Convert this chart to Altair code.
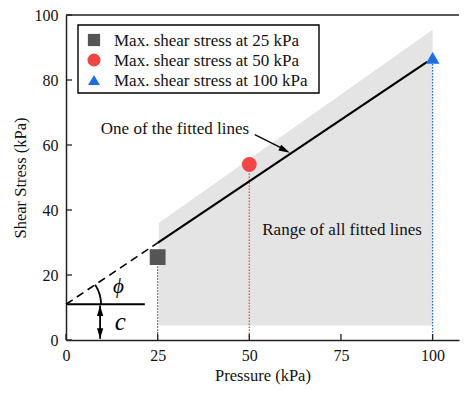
import altair as alt
import pandas as pd
import numpy as np

FONT = "Liberation Serif"

# ---- data ----
pressures = [25, 50, 100]
max_shear = [25.5, 54.0, 86.8]
series = ["Max. shear stress at 25 kPa", "Max. shear stress at 50 kPa", "Max. shear stress at 100 kPa"]
colors = ["#555555", "#f24646", "#1c6fe0"]
shapes = ["square", "circle", "triangle-up"]
sizes = [250, 190, 230]
legend_sizes = [150, 170, 140]

range_x = [25.3, 100]
range_top = [36.0, 95.5]
range_bottom = [4.5, 4.5]

cohesion = 11.0
fit_solid_x = [25, 98.5]
fit_solid_y = [29.9, 85.6]
fit_dash_x = [0, 25]
fit_dash_y = [11.0, 29.9]

x_ticks = [0, 25, 50, 75, 100]
y_ticks = [0, 20, 40, 60, 80, 100]

W, H = 393, 325
XMAX = 107.2
xs = alt.Scale(domain=[0, XMAX], nice=False, zero=False)
ys = alt.Scale(domain=[0, 100], nice=False)

pts = pd.DataFrame({"p": pressures, "s": max_shear, "series": series})

AX = dict(labelFont=FONT, titleFont=FONT, labelFontSize=16, titleFontSize=16.5, ticks=False, grid=False,
          titleFontWeight="normal", labelColor="#111", titleColor="#111", domainColor="#222", domainWidth=1.5)
X = lambda f: alt.X(f, scale=xs, axis=alt.Axis(values=x_ticks, title="Pressure (kPa)", labelPadding=7,
                                               titlePadding=4, labelFlush=False, **AX))
Y = lambda f: alt.Y(f, scale=ys, axis=alt.Axis(values=y_ticks, title="Shear Stress (kPa)", labelPadding=8,
                                               titlePadding=6, **AX))

shade = alt.Chart(pd.DataFrame({"x": range_x, "t": range_top, "b": range_bottom})).mark_area(
    color="#e4e4e4", opacity=1).encode(x=X("x:Q"), y=Y("t:Q"), y2="b:Q")

drops = alt.Chart(pts).mark_rule(strokeDash=[1.5, 1.5], strokeWidth=1.3).encode(
    x=X("p:Q"), y=Y("s:Q"), y2=alt.datum(0),
    stroke=alt.Stroke("series:N", scale=alt.Scale(domain=series, range=colors), legend=None))

solid = alt.Chart(pd.DataFrame({"x": fit_solid_x, "y": fit_solid_y})).mark_line(
    color="black", strokeWidth=2.2).encode(x=X("x:Q"), y=Y("y:Q"))
dashed = alt.Chart(pd.DataFrame({"x": fit_dash_x, "y": fit_dash_y})).mark_line(
    color="black", strokeWidth=1.6, strokeDash=[8, 5]).encode(x=X("x:Q"), y=Y("y:Q"))
hline = alt.Chart(pd.DataFrame({"x": [0, 21.5], "y": [cohesion, cohesion]})).mark_line(
    color="black", strokeWidth=2.2).encode(x=X("x:Q"), y=Y("y:Q"))

# angle arc (decorative)
px_x = W / XMAX
px_y = H / 100
r = 35
t = np.linspace(0, np.arctan((fit_dash_y[1] - fit_dash_y[0]) * px_y / (25 * px_x)), 20)
arc = alt.Chart(pd.DataFrame({"x": r * np.cos(t) / px_x, "y": cohesion + r * np.sin(t) / px_y, "o": range(20)})).mark_line(
    color="black", strokeWidth=1.8).encode(x=X("x:Q"), y=Y("y:Q"), order="o:Q")

# double arrow for c
c_x = 9.3
carrow = alt.Chart(pd.DataFrame({"x": [c_x], "y0": [0.4], "y1": [10.6]})).mark_rule(
    color="black", strokeWidth=1.8).encode(x=X("x:Q"), y=Y("y0:Q"), y2="y1:Q")
head_up = alt.Chart(pd.DataFrame({"x": [c_x], "y": [9.0]})).mark_point(
    shape="M0,-1 L-0.6,1 L0.6,1 Z", filled=True, color="black", size=110, opacity=1).encode(x=X("x:Q"), y=Y("y:Q"))
head_dn = alt.Chart(pd.DataFrame({"x": [c_x], "y": [2.0]})).mark_point(
    shape="M0,1 L-0.6,-1 L0.6,-1 Z", filled=True, color="black", size=110, opacity=1).encode(x=X("x:Q"), y=Y("y:Q"))

# annotation arrow
arr = alt.Chart(pd.DataFrame({"x": [51.5], "y": [63.2], "x2": [59.8], "y2": [58.5]})).mark_rule(
    color="black", strokeWidth=1.2).encode(x=X("x:Q"), y=Y("y:Q"), x2="x2:Q", y2="y2:Q")
arr_head = alt.Chart(pd.DataFrame({"x": [59.7], "y": [58.4]})).mark_point(
    shape="M1,0 L-1,-0.55 L-1,0.55 Z", filled=True, color="black", size=130, angle=27, opacity=1).encode(
    x=X("x:Q"), y=Y("y:Q"))

texts = pd.DataFrame({
    "x": [9.5, 75.3],
    "y": [65.0, 34.0],
    "label": ["One of the fitted lines", "Range of all fitted lines"],
})
txt1 = alt.Chart(texts.iloc[[0]]).mark_text(font=FONT, fontSize=17, align="left", color="#111").encode(
    x=X("x:Q"), y=Y("y:Q"), text="label:N")
txt2 = alt.Chart(texts.iloc[[1]]).mark_text(font=FONT, fontSize=17, align="center", color="#111").encode(
    x=X("x:Q"), y=Y("y:Q"), text="label:N")
phi = alt.Chart(pd.DataFrame({"x": [14.3], "y": [16.3], "t": ["ϕ"]})).mark_text(
    font=FONT, fontSize=21, fontStyle="italic", color="black").encode(x=X("x:Q"), y=Y("y:Q"), text="t:N")
cc = alt.Chart(pd.DataFrame({"x": [14.8], "y": [5.6], "t": ["c"]})).mark_text(
    font=FONT, fontSize=25, fontStyle="italic", color="black").encode(x=X("x:Q"), y=Y("y:Q"), text="t:N")

points = alt.Chart(pts).mark_point(filled=True, opacity=1).encode(
    x=X("p:Q"), y=Y("s:Q"),
    color=alt.Color("series:N", scale=alt.Scale(domain=series, range=colors), legend=None),
    shape=alt.Shape("series:N", scale=alt.Scale(domain=series, range=shapes), legend=None),
    size=alt.Size("series:N", scale=alt.Scale(domain=series, range=sizes), legend=None),
)

# inward ticks
xt = alt.Chart(pd.DataFrame({"v": x_ticks})).mark_rule(color="#222", strokeWidth=1.3).encode(
    x=X("v:Q"), y=alt.value(H), y2=alt.value(H - 6))
yt = alt.Chart(pd.DataFrame({"v": y_ticks})).mark_rule(color="#222", strokeWidth=1.3).encode(
    y=Y("v:Q"), x=alt.value(0), x2=alt.value(6))
top = alt.Chart(pd.DataFrame({"a": [0]})).mark_rule(color="#222", strokeWidth=1.5).encode(
    x=alt.value(0), x2=alt.value(W), y=alt.value(0))

# legend drawn as marks (box + one row per series)
leg_df = pd.DataFrame({"a": [0]})
leg_box = alt.Chart(leg_df).mark_rect(fill="white", stroke="black", strokeWidth=1.4).encode(
    x=alt.value(12), x2=alt.value(253), y=alt.value(10), y2=alt.value(78))
leg_layers = [leg_box]
for i, (name, col, shp, sz) in enumerate(zip(series, colors, shapes, legend_sizes)):
    row = pd.DataFrame({"label": [name]})
    yy = 25 + 20 * i
    leg_layers.append(alt.Chart(row).mark_point(filled=True, opacity=1, color=col, shape=shp, size=sz).encode(
        x=alt.value(28), y=alt.value(yy)))
    leg_layers.append(alt.Chart(row).mark_text(font=FONT, fontSize=17, align="left", baseline="middle",
                                               color="#111").encode(
        x=alt.value(48), y=alt.value(yy + 0.5), text="label:N"))

chart = alt.layer(
    shade, drops, dashed, solid, hline, arc, carrow, head_up, head_dn, arr, arr_head,
    txt1, txt2, phi, cc, points, xt, yt, top, *leg_layers
).properties(
    width=W, height=H,
    autosize=alt.AutoSizeParams(type="none"),
    padding={"left": 58, "top": 7, "right": 1, "bottom": 45},
).configure(font=FONT).configure_view(stroke=None).configure_axis(
    labelFont=FONT, titleFont=FONT
)

chart.save("out.html", embed_options={"renderer": "svg", "actions": False})
